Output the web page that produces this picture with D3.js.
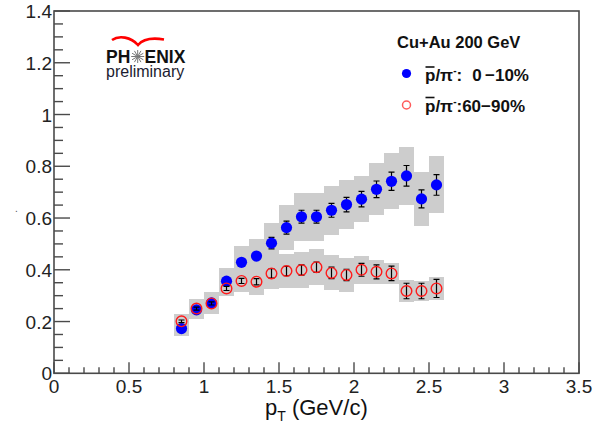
<!DOCTYPE html>
<html>
<head>
<meta charset="utf-8">
<script src="https://cdn.jsdelivr.net/npm/d3@7"></script>
<style>
  body { margin: 0; background: #fff; }
  text { font-family: "Liberation Sans", Arial, sans-serif; }
</style>
</head>
<body>
<div id="chart"></div>
<script>
///////////////////////////////////////////
// Data
///////////////////////////////////////////
var pt = [0.85, 0.95, 1.05, 1.15, 1.25, 1.35, 1.45, 1.55, 1.65, 1.75, 1.85, 1.95, 2.05, 2.15, 2.25, 2.35, 2.45, 2.55];

// pbar/pi-  0-10%
var central = [0.173, 0.245, 0.272, 0.356, 0.429, 0.453, 0.503, 0.563, 0.605, 0.605, 0.630, 0.652, 0.673, 0.711, 0.742, 0.763, 0.674, 0.728];
var centralStat = [0.006, 0.006, 0.007, 0.008, 0.010, 0.012, 0.022, 0.025, 0.025, 0.025, 0.027, 0.028, 0.030, 0.032, 0.035, 0.040, 0.035, 0.040];
var centralSys = [0.030, 0.035, 0.044, 0.052, 0.061, 0.067, 0.077, 0.087, 0.093, 0.093, 0.095, 0.095, 0.090, 0.100, 0.108, 0.113, 0.103, 0.110];

// pbar/pi-  60-90%
var peripheral = [0.201, 0.250, 0.270, 0.328, 0.357, 0.354, 0.386, 0.395, 0.399, 0.410, 0.388, 0.380, 0.400, 0.392, 0.386, 0.318, 0.318, 0.328];
var periphStat = [0.005, 0.006, 0.006, 0.008, 0.010, 0.012, 0.018, 0.018, 0.020, 0.020, 0.022, 0.022, 0.025, 0.027, 0.028, 0.030, 0.030, 0.035];
var periphSys = [0.030, 0.038, 0.040, 0.030, 0.042, 0.050, 0.060, 0.065, 0.070, 0.070, 0.068, 0.065, 0.055, 0.045, 0.042, 0.042, 0.040, 0.046];

var binHalf = 0.05;

var xMajor = [0, 0.5, 1, 1.5, 2, 2.5, 3, 3.5];
var yMajor = [0, 0.2, 0.4, 0.6, 0.8, 1, 1.2, 1.4];
var xMinorStep = 0.1;
var yMinorStep = 0.05;

///////////////////////////////////////////
// Layout
///////////////////////////////////////////
var W = 599, H = 428;
var frame = { left: 54, right: 579, top: 11, bottom: 373.3 };

var svg = d3.select("#chart").append("svg")
  .attr("width", W)
  .attr("height", H);

var x = d3.scaleLinear().domain([0, 3.5]).range([frame.left, frame.right]);
var y = d3.scaleLinear().domain([0, 1.4]).range([frame.bottom, frame.top]);

var series = [
  { vals: central, stat: centralStat, sys: centralSys, kind: "filled" },
  { vals: peripheral, stat: periphStat, sys: periphSys, kind: "open" }
];

///////////////////////////////////////////
// Systematic boxes
///////////////////////////////////////////
var boxes = svg.append("g");
series.forEach(function(s) {
  boxes.selectAll(null)
    .data(pt)
    .enter().append("rect")
    .attr("x", function(d) { return x(d - binHalf); })
    .attr("width", function(d) { return x(d + binHalf) - x(d - binHalf); })
    .attr("y", function(d, i) { return y(s.vals[i] + s.sys[i]); })
    .attr("height", function(d, i) { return y(s.vals[i] - s.sys[i]) - y(s.vals[i] + s.sys[i]); })
    .attr("fill", "#cdcdcd")
    .attr("shape-rendering", "crispEdges");
});

///////////////////////////////////////////
// Stat bars and markers
///////////////////////////////////////////
series.forEach(function(s) {
  var g = svg.append("g");
  g.selectAll(".ebar")
    .data(pt)
    .enter().append("path")
    .attr("class", "ebar")
    .attr("d", function(d, i) {
      var cx = x(d), t = y(s.vals[i] + s.stat[i]), b = y(s.vals[i] - s.stat[i]);
      return "M" + cx + "," + t + "V" + b +
        "M" + (cx - 3) + "," + t + "H" + (cx + 3) +
        "M" + (cx - 3) + "," + b + "H" + (cx + 3);
    })
    .attr("stroke", "#000")
    .attr("stroke-width", 1.2)
    .attr("fill", "none");

  g.selectAll(".mk")
    .data(pt)
    .enter().append("circle")
    .attr("class", "mk")
    .attr("cx", function(d) { return x(d); })
    .attr("cy", function(d, i) { return y(s.vals[i]); })
    .attr("r", s.kind === "filled" ? 5.6 : 5.3)
    .attr("fill", s.kind === "filled" ? "#0000ff" : "none")
    .attr("stroke", s.kind === "filled" ? "none" : "#ff1a1a")
    .attr("stroke-width", 1.4);
});

///////////////////////////////////////////
// Frame, ticks and labels
///////////////////////////////////////////
var axisColor = "#4a4a4a";
svg.append("rect")
  .attr("x", frame.left).attr("y", frame.top)
  .attr("width", frame.right - frame.left)
  .attr("height", frame.bottom - frame.top)
  .attr("fill", "none")
  .attr("stroke", axisColor)
  .attr("stroke-width", 1.6);

var xMinor = d3.range(0, 3.5 + 1e-9, xMinorStep);
var yMinor = d3.range(0, 1.4 + 1e-9, yMinorStep);

svg.append("g").selectAll("line")
  .data(xMinor)
  .enter().append("line")
  .attr("x1", function(d) { return x(d); })
  .attr("x2", function(d) { return x(d); })
  .attr("y1", frame.bottom)
  .attr("y2", function(d, i) { return frame.bottom - (i % 5 === 0 ? 11 : 6); })
  .attr("stroke", axisColor)
  .attr("stroke-width", 1.4);

svg.append("g").selectAll("line")
  .data(yMinor)
  .enter().append("line")
  .attr("y1", function(d) { return y(d); })
  .attr("y2", function(d) { return y(d); })
  .attr("x1", frame.left)
  .attr("x2", function(d, i) { return frame.left + (i % 4 === 0 ? 16 : 9); })
  .attr("stroke", axisColor)
  .attr("stroke-width", 1.4);

svg.append("g").selectAll("text")
  .data(xMajor)
  .enter().append("text")
  .attr("x", function(d) { return x(d); })
  .attr("y", 393)
  .attr("text-anchor", "middle")
  .attr("font-size", 19)
  .attr("fill", "#222")
  .text(function(d) { return d; });

svg.append("g").selectAll("text")
  .data(yMajor)
  .enter().append("text")
  .attr("x", 52)
  .attr("y", function(d) { return y(d) + 7; })
  .attr("text-anchor", "end")
  .attr("font-size", 19)
  .attr("fill", "#222")
  .text(function(d) { return d; });

// x axis title
var xt = svg.append("text")
  .attr("x", 265)
  .attr("y", 415)
  .attr("font-size", 22)
  .attr("fill", "#111");
xt.append("tspan").text("p");
xt.append("tspan").attr("font-size", 14).attr("dy", 6).text("T");
xt.append("tspan").attr("dy", -6).text(" (GeV/c)");

// tiny y title dot
svg.append("text")
  .attr("x", 15).attr("y", 212)
  .attr("font-size", 10)
  .attr("fill", "#555")
  .text(".");

///////////////////////////////////////////
// PHENIX preliminary logo
///////////////////////////////////////////
var logo = svg.append("g");
logo.append("path")
  .attr("d", "M112,40 C119,35 131,37 138,45 C143,39 152,37.5 164,39.5")
  .attr("fill", "none")
  .attr("stroke", "#f00")
  .attr("stroke-width", 2.6);
logo.append("text")
  .attr("x", 106).attr("y", 62.5)
  .attr("font-size", 17.5).attr("font-weight", "bold")
  .attr("fill", "#111")
  .text("PH");
logo.append("text")
  .attr("x", 144.5).attr("y", 62.5)
  .attr("font-size", 17.5).attr("font-weight", "bold")
  .attr("fill", "#111")
  .text("ENIX");
var star = logo.append("g").attr("transform", "translate(137.7,56.5)");
star.selectAll("line")
  .data(d3.range(12))
  .enter().append("line")
  .attr("x1", 0).attr("y1", 0)
  .attr("x2", function(d) { return 6.5 * Math.cos(d * Math.PI / 6); })
  .attr("y2", function(d) { return 6.5 * Math.sin(d * Math.PI / 6); })
  .attr("stroke", "#777")
  .attr("stroke-width", 1);
logo.append("text")
  .attr("x", 106).attr("y", 76.5)
  .attr("font-size", 16)
  .attr("fill", "#1c1c30")
  .text("preliminary");

///////////////////////////////////////////
// Legend
///////////////////////////////////////////
var leg = svg.append("g");
leg.append("text")
  .attr("x", 397).attr("y", 48)
  .attr("font-size", 16.5).attr("font-weight", "bold")
  .attr("fill", "#111")
  .text("Cu+Au 200 GeV");

leg.append("circle")
  .attr("cx", 406.5).attr("cy", 73.5).attr("r", 4.6)
  .attr("fill", "#0000ff");
leg.append("circle")
  .attr("cx", 406.5).attr("cy", 105).attr("r", 4)
  .attr("fill", "none").attr("stroke", "#ff5a5a").attr("stroke-width", 1.5);

var legLabels = [
  { y: 81, pct: "0\u2009\u221210%", gap: 10 },
  { y: 111.5, pct: "60\u221290%", gap: 0 }
];
legLabels.forEach(function(l) {
  var t = leg.append("text")
    .attr("x", 425).attr("y", l.y)
    .attr("font-size", 17).attr("font-weight", "bold")
    .attr("fill", "#111");
  t.append("tspan").text("p");
  t.append("tspan").text("/\u03c0");
  t.append("tspan").attr("font-size", 10).attr("dy", -7).text("-");
  t.append("tspan").attr("dy", 7).text(":");
  t.append("tspan").attr("dx", l.gap).text(l.pct);
  // bar over p
  leg.append("line")
    .attr("x1", 425.5).attr("x2", 434.5)
    .attr("y1", l.y - 14).attr("y2", l.y - 14)
    .attr("stroke", "#111").attr("stroke-width", 1.6);
});
</script>
</body>
</html>
